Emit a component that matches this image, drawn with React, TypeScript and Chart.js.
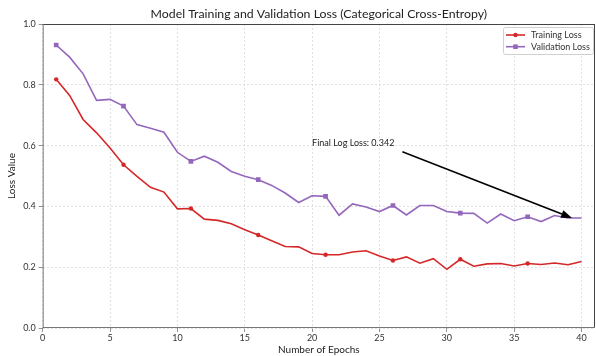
import React, { useEffect, useRef } from "react";
import { Chart, registerables } from "chart.js";

Chart.register(...registerables);

const epochs = [1,2,3,4,5,6,7,8,9,10,11,12,13,14,15,16,17,18,19,20,21,22,23,24,25,26,27,28,29,30,31,32,33,34,35,36,37,38,39,40];
const trainingLoss = [0.818,0.765,0.686,0.642,0.592,0.537,0.499,0.463,0.447,0.392,0.393,0.358,0.354,0.343,0.323,0.306,0.287,0.268,0.267,0.245,0.241,0.241,0.250,0.254,0.237,0.222,0.234,0.213,0.228,0.193,0.226,0.203,0.211,0.212,0.204,0.212,0.209,0.214,0.208,0.219];
const validationLoss = [0.931,0.891,0.836,0.749,0.752,0.730,0.669,0.657,0.644,0.578,0.548,0.565,0.545,0.515,0.499,0.488,0.469,0.444,0.413,0.435,0.433,0.371,0.408,0.398,0.383,0.403,0.372,0.403,0.403,0.383,0.378,0.377,0.345,0.375,0.353,0.366,0.350,0.370,0.362,0.362];
const xTicks = [0,5,10,15,20,25,30,35,40];
const yTicks = [0,0.2,0.4,0.6,0.8,1.0];
const seriesLabels = ["Training Loss", "Validation Loss"];
const chartTitle = "Model Training and Validation Loss (Categorical Cross-Entropy)";
const xTitle = "Number of Epochs";
const yTitle = "Loss Value";
const annotationText = "Final Log Loss: 0.342";
const annotationTextAt = [20, 0.6];
const arrowFrom = [26.7, 0.58];
const arrowTo = [39.3, 0.362];

const FONT = "Lato";
const RED = "#d62728";
const PURPLE = "#9467bd";

const overlayPlugin = {
  id: "overlay",
  afterDraw(chart: any) {
    const { ctx, chartArea: a, scales } = chart;
    const xs = scales.x, ys = scales.y;
    ctx.save();
    // frame
    ctx.lineWidth = 1;
    ctx.strokeStyle = "#444";
    ctx.beginPath();
    ctx.moveTo(a.left, a.top + 0.5); ctx.lineTo(a.right, a.top + 0.5);
    ctx.moveTo(a.right - 0.5, a.top); ctx.lineTo(a.right - 0.5, a.bottom);
    ctx.stroke();
    ctx.strokeStyle = "#777";
    ctx.beginPath();
    ctx.moveTo(a.left + 0.5, a.top); ctx.lineTo(a.left + 0.5, a.bottom);
    ctx.moveTo(a.left, a.bottom - 0.5); ctx.lineTo(a.right, a.bottom - 0.5);
    ctx.stroke();

    // title
    ctx.fillStyle = "#222";
    ctx.font = `12.3px ${FONT}`;
    ctx.textAlign = "center";
    ctx.textBaseline = "middle";
    ctx.fillText(chartTitle, (a.left + a.right) / 2, 14);

    // annotation text
    ctx.font = `9px ${FONT}`;
    ctx.textAlign = "left";
    ctx.textBaseline = "alphabetic";
    ctx.fillStyle = "#222";
    ctx.fillText(annotationText, xs.getPixelForValue(annotationTextAt[0]), ys.getPixelForValue(annotationTextAt[1]));

    // arrow
    const x1 = xs.getPixelForValue(arrowFrom[0]), y1 = ys.getPixelForValue(arrowFrom[1]);
    const x2 = xs.getPixelForValue(arrowTo[0]), y2 = ys.getPixelForValue(arrowTo[1]);
    const ang = Math.atan2(y2 - y1, x2 - x1);
    const hl = 11, hw = 4;
    const bx = x2 - hl * Math.cos(ang), by = y2 - hl * Math.sin(ang);
    ctx.strokeStyle = "#000";
    ctx.lineWidth = 1.6;
    ctx.beginPath();
    ctx.moveTo(x1, y1); ctx.lineTo(bx, by);
    ctx.stroke();
    ctx.fillStyle = "#000";
    ctx.beginPath();
    ctx.moveTo(x2, y2);
    ctx.lineTo(bx + hw * Math.sin(ang), by - hw * Math.cos(ang));
    ctx.lineTo(bx - hw * Math.sin(ang), by + hw * Math.cos(ang));
    ctx.closePath();
    ctx.fill();

    // legend
    const lx = a.right - 92, ly = a.top + 3, lw = 90, lh = 27;
    ctx.fillStyle = "rgba(255,255,255,0.85)";
    ctx.strokeStyle = "#d0d0d0";
    ctx.lineWidth = 1;
    ctx.beginPath();
    if (ctx.roundRect) ctx.roundRect(lx + 0.5, ly + 0.5, lw, lh, 2); else ctx.rect(lx + 0.5, ly + 0.5, lw, lh);
    ctx.fill();
    ctx.stroke();
    const colors = [RED, PURPLE];
    ctx.font = `9px ${FONT}`;
    ctx.textBaseline = "middle";
    chart.data.datasets.forEach((ds: any, i: number) => {
      const ry = ly + 8 + i * 11.7;
      ctx.strokeStyle = colors[i];
      ctx.lineWidth = 1.6;
      ctx.beginPath();
      ctx.moveTo(lx + 3, ry); ctx.lineTo(lx + 22, ry);
      ctx.stroke();
      ctx.fillStyle = colors[i];
      ctx.beginPath();
      if (i === 0) ctx.arc(lx + 12.5, ry, 2.2, 0, Math.PI * 2);
      else ctx.rect(lx + 10.2, ry - 2.3, 4.6, 4.6);
      ctx.fill();
      ctx.fillStyle = "#333";
      ctx.textAlign = "left";
      ctx.fillText(ds.label, lx + 28, ry);
    });
    ctx.restore();
  },
};

export default function App() {
  const ref = useRef<HTMLCanvasElement>(null);
  useEffect(() => {
    document.body.style.margin = "0";
    const markerRadius = (r: number) => epochs.map((_, i) => (i % 5 === 0 ? r : 0));
    const chart = new Chart(ref.current as HTMLCanvasElement, {
      type: "line",
      data: {
        datasets: [
          {
            label: seriesLabels[0],
            data: epochs.map((e, i) => ({ x: e, y: trainingLoss[i] })),
            borderColor: RED,
            backgroundColor: RED,
            borderWidth: 1.6,
            pointStyle: "circle",
            pointRadius: markerRadius(2.2),
            pointBorderWidth: 0,
            tension: 0,
          },
          {
            label: seriesLabels[1],
            data: epochs.map((e, i) => ({ x: e, y: validationLoss[i] })),
            borderColor: PURPLE,
            backgroundColor: PURPLE,
            borderWidth: 1.6,
            pointStyle: "rect",
            pointRadius: markerRadius(3.3),
            pointBorderWidth: 0,
            tension: 0,
          },
        ],
      },
      options: {
        animation: false,
        responsive: false,
        events: [],
        layout: { autoPadding: false, padding: { top: 24, right: 1, left: 0, bottom: 0 } },
        plugins: { legend: { display: false }, title: { display: false }, tooltip: { enabled: false } },
        scales: {
          x: {
            type: "linear",
            min: 0,
            max: 41,
            afterBuildTicks: (s: any) => { s.ticks = xTicks.map((v) => ({ value: v })); },
            afterFit: (s: any) => { s.height = 28; },
            ticks: { color: "#333", font: { family: FONT, size: 9 }, padding: 1, maxRotation: 0 },
            grid: { color: "#d9d9d9", lineWidth: 0.8, tickLength: 4, tickColor: "#777", tickBorderDash: [] },
            border: { display: false, dash: [2, 2] },
            title: { display: true, text: xTitle, color: "#222", font: { family: FONT, size: 10 }, padding: { top: 0, bottom: 0 } },
          },
          y: {
            min: 0,
            max: 1,
            afterBuildTicks: (s: any) => { s.ticks = yTicks.map((v) => ({ value: v })); },
            afterFit: (s: any) => { s.width = 42.7; },
            ticks: { color: "#333", font: { family: FONT, size: 9 }, padding: 3, callback: (v: any) => Number(v).toFixed(1) },
            grid: { color: "#d9d9d9", lineWidth: 0.8, tickLength: 4, tickColor: "#777", tickBorderDash: [] },
            border: { display: false, dash: [2, 2] },
            title: { display: true, text: yTitle, color: "#222", font: { family: FONT, size: 10 }, padding: { top: 6, bottom: 0 } },
          },
        },
      },
      plugins: [overlayPlugin],
    } as any);
    return () => chart.destroy();
  }, []);
  return (
    <div style={{ width: 596, height: 356 }}>
      <canvas ref={ref} width={596} height={356} style={{ display: "block" }} />
    </div>
  );
}
